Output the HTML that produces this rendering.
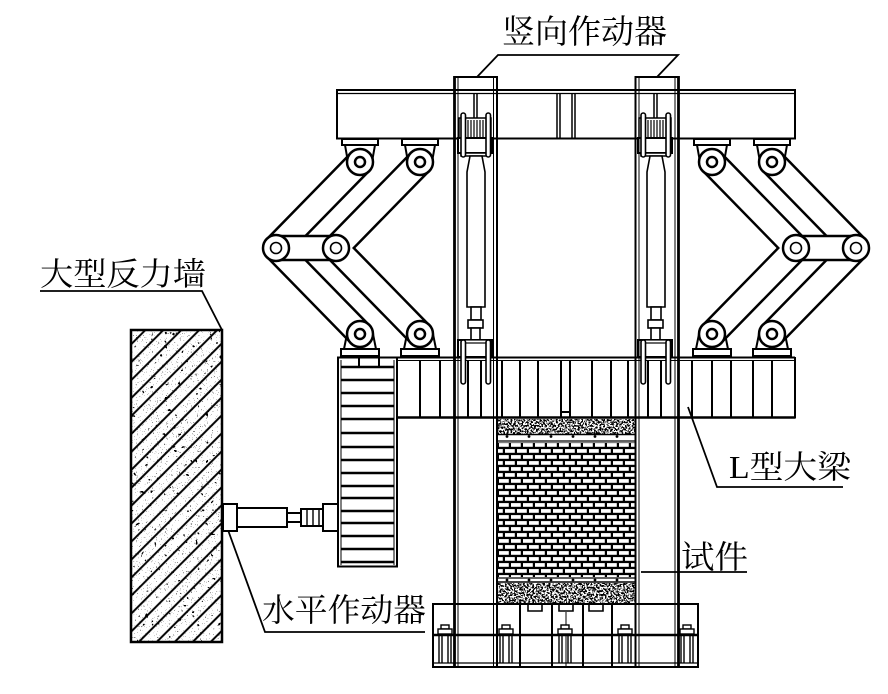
<!DOCTYPE html>
<html><head><meta charset="utf-8">
<style>
html,body{margin:0;padding:0;background:#fff;}
svg{display:block;}
text{font-family:"Liberation Serif","Noto Serif CJK SC",serif;fill:#000;}
</style></head><body>
<svg width="888" height="694" viewBox="0 0 888 694" xmlns="http://www.w3.org/2000/svg">
<defs>
 <filter id="conc" x="0" y="0" width="1" height="1" color-interpolation-filters="sRGB">
  <feTurbulence type="fractalNoise" baseFrequency="0.55" numOctaves="2" seed="7"/>
  <feColorMatrix type="matrix" values="0 0 0 0 0  0 0 0 0 0  0 0 0 0 0  -12 0 0 0 6.5"/>
 </filter>
 <filter id="stip" x="0" y="0" width="1" height="1" color-interpolation-filters="sRGB">
  <feTurbulence type="fractalNoise" baseFrequency="0.8" numOctaves="2" seed="3"/>
  <feColorMatrix type="matrix" values="0 0 0 0 0  0 0 0 0 0  0 0 0 0 0  -14 0 0 0 4.1"/>
 </filter>
 <filter id="blob" x="0" y="0" width="1" height="1" color-interpolation-filters="sRGB">
  <feTurbulence type="fractalNoise" baseFrequency="0.22" numOctaves="2" seed="11"/>
  <feColorMatrix type="matrix" values="0 0 0 0 0  0 0 0 0 0  0 0 0 0 0  -22 0 0 0 6.0"/>
 </filter>
 <pattern id="brick" width="12" height="12" patternUnits="userSpaceOnUse" x="498" y="442.5">
  <rect width="12" height="12" fill="#000"/>
  <rect x="1" y="0.6" width="9.8" height="3.7" fill="#fff"/>
  <rect x="-5" y="6.6" width="9.8" height="3.7" fill="#fff"/>
  <rect x="7" y="6.6" width="9.8" height="3.7" fill="#fff"/>
 </pattern>
 <pattern id="hatch" width="30" height="12.7" patternUnits="userSpaceOnUse" patternTransform="rotate(-45)">
  <line x1="0" y1="6" x2="30" y2="6" stroke="#000" stroke-width="2"/>
 </pattern>
 <clipPath id="wallclip"><rect x="131" y="330" width="91" height="312"/></clipPath>
 <g id="bars">
  <polygon points="351.8,154 267.8,240 284.2,256 368.2,170"/>
  <polygon points="411.8,154 327.8,240 344.2,256 428.2,170"/>
  <polygon points="267.8,256 351.8,342 368.2,326 284.2,240"/>
  <polygon points="327.8,256 411.8,342 428.2,326 344.2,240"/>
 </g>
 <g id="sc">
  <g stroke="#000" stroke-width="2" fill="#fff">
   <rect x="342" y="139" width="36" height="6"/>
   <polygon points="345,145 375,145 372,162 348,162"/>
   <rect x="402" y="139" width="36" height="6"/>
   <polygon points="405,145 435,145 432,162 408,162"/>
   <polygon points="347,334 373,334 376,349 344,349"/>
   <rect x="341" y="349" width="38" height="7"/>
   <polygon points="407,334 433,334 436,349 404,349"/>
   <rect x="401" y="349" width="38" height="7"/>
  </g>
  <use href="#bars" fill="#000" stroke="#000" stroke-width="5" stroke-linejoin="miter"/>
  <use href="#bars" fill="#fff"/>
  <rect x="276" y="236" width="60" height="24" fill="#fff" stroke="#000" stroke-width="2.5"/>
  <g fill="#fff" stroke="#000" stroke-width="2.5">
   <circle cx="360" cy="162" r="13"/><circle cx="360" cy="162" r="5"/>
   <circle cx="420" cy="162" r="13"/><circle cx="420" cy="162" r="5"/>
   <circle cx="360" cy="334" r="13"/><circle cx="360" cy="334" r="5"/>
   <circle cx="420" cy="334" r="13"/><circle cx="420" cy="334" r="5"/>
   <circle cx="276" cy="248" r="13"/>
   <circle cx="336" cy="248" r="13"/>
  </g>
  <g fill="#fff" stroke="#000" stroke-width="1.6">
   <circle cx="276" cy="248" r="5.5"/>
   <circle cx="336" cy="248" r="5.5"/>
  </g>
 </g>
 <g id="va" stroke="#000" fill="#fff">
  <line x1="474" y1="93" x2="474" y2="118" stroke-width="1.5"/>
  <line x1="477" y1="93" x2="477" y2="118" stroke-width="1.5"/>
  <rect x="459" y="118" width="32" height="20" stroke-width="1.5"/>
  <g stroke-width="1.2">
   <line x1="468" y1="120" x2="468" y2="137"/><line x1="471" y1="120" x2="471" y2="137"/>
   <line x1="474" y1="120" x2="474" y2="137"/><line x1="477" y1="120" x2="477" y2="137"/>
   <line x1="480" y1="120" x2="480" y2="137"/><line x1="483" y1="120" x2="483" y2="137"/>
  </g>
  <rect x="458" y="138" width="34" height="15" stroke-width="2"/>
  <rect x="461" y="153" width="28" height="3" stroke-width="1.5"/>
  <path d="M470,156 L482,156 L485,172 L485,307 L467,307 L467,172 Z" stroke-width="1.6"/>
  <rect x="471" y="307" width="10" height="13" stroke-width="1.6"/>
  <rect x="468" y="320" width="15" height="8" stroke-width="1.6"/>
  <rect x="471" y="328" width="9" height="12" stroke-width="1.6"/>
  <rect x="458" y="340" width="34" height="17" stroke-width="2"/>
  <rect x="461" y="340" width="28" height="3" stroke-width="1.2"/>
  <rect x="461" y="113" width="4.5" height="44" rx="2.2" stroke-width="1.6"/>
  <rect x="486" y="113" width="4.5" height="44" rx="2.2" stroke-width="1.6"/>
  <rect x="461" y="340" width="4.5" height="44" rx="2.2" stroke-width="1.6"/>
  <rect x="486" y="340" width="4.5" height="44" rx="2.2" stroke-width="1.6"/>
 </g>
 <g id="bolt" stroke="#000" fill="#fff" stroke-width="1.4">
  <line x1="-3" y1="635" x2="-3" y2="663"/><line x1="3" y1="635" x2="3" y2="663"/>
  <line x1="-6" y1="635" x2="-6" y2="663"/><line x1="6" y1="635" x2="6" y2="663"/>
  <rect x="-4" y="625" width="8" height="4"/>
  <rect x="-7" y="629" width="14" height="5"/>
 </g>
</defs>

<!-- Labels -->
<text x="502" y="43" font-size="33" textLength="165" lengthAdjust="spacingAndGlyphs">竖向作动器</text>
<text x="40" y="285" font-size="32" textLength="166" lengthAdjust="spacingAndGlyphs">大型反力墙</text>
<text x="262" y="621" font-size="32" textLength="164" lengthAdjust="spacingAndGlyphs">水平作动器</text>
<text x="729" y="478" font-size="32" textLength="122" lengthAdjust="spacingAndGlyphs">L型大梁</text>
<text x="681" y="568" font-size="32" textLength="67" lengthAdjust="spacingAndGlyphs">试件</text>

<g stroke="#000" stroke-width="1.8" fill="none">
 <polyline points="477,77 498,55 678,55 657,77"/>
 <polyline points="40,291 202,291 222,330"/>
 <polyline points="228,530 265,632 425,632"/>
 <polyline points="688,407 717,487 843,487"/>
 <line x1="641" y1="572" x2="747" y2="572"/>
</g>

<!-- Top beam -->
<g stroke="#000" fill="none">
 <rect x="337" y="90" width="458" height="48.5" stroke-width="2"/>
 <line x1="337" y1="93.5" x2="795" y2="93.5" stroke-width="1.2"/>
 <line x1="557" y1="93" x2="557" y2="138" stroke-width="1.5"/>
 <line x1="560" y1="93" x2="560" y2="138" stroke-width="1.5"/>
 <line x1="572" y1="93" x2="572" y2="138" stroke-width="1.5"/>
 <line x1="575" y1="93" x2="575" y2="138" stroke-width="1.5"/>
</g>

<!-- L beam band -->
<g stroke="#000" fill="none">
 <line x1="337" y1="357.5" x2="795" y2="357.5" stroke-width="2"/>
 <line x1="397" y1="360.5" x2="795" y2="360.5" stroke-width="1"/>
 <line x1="397" y1="417.5" x2="795" y2="417.5" stroke-width="2.5"/>
 <line x1="795" y1="357" x2="795" y2="418.5" stroke-width="2"/>
 <g stroke-width="2">
  <line x1="420" y1="360" x2="420" y2="417"/><line x1="440" y1="360" x2="440" y2="417"/>
  <line x1="468" y1="360" x2="468" y2="417"/><line x1="481" y1="360" x2="481" y2="417"/>
  <line x1="502" y1="360" x2="502" y2="417"/><line x1="520" y1="360" x2="520" y2="417"/>
  <line x1="538" y1="360" x2="538" y2="417"/><line x1="561" y1="360" x2="561" y2="417"/>
  <line x1="570" y1="360" x2="570" y2="417"/><line x1="592" y1="360" x2="592" y2="417"/>
  <line x1="611" y1="360" x2="611" y2="417"/><line x1="628" y1="360" x2="628" y2="417"/>
  <line x1="648" y1="360" x2="648" y2="417"/><line x1="661" y1="360" x2="661" y2="417"/>
  <line x1="692" y1="360" x2="692" y2="417"/><line x1="712" y1="360" x2="712" y2="417"/>
  <line x1="731" y1="360" x2="731" y2="417"/><line x1="753" y1="360" x2="753" y2="417"/>
  <line x1="772" y1="360" x2="772" y2="417"/>
  <line x1="560" y1="412" x2="571" y2="412"/>
 </g>
 <!-- leg -->
 <line x1="338" y1="357" x2="338" y2="567" stroke-width="2"/>
 <line x1="341" y1="360" x2="341" y2="565" stroke-width="1"/>
 <line x1="394" y1="360" x2="394" y2="565" stroke-width="1"/>
 <line x1="397" y1="357" x2="397" y2="567" stroke-width="2"/>
 <line x1="337" y1="566.5" x2="398" y2="566.5" stroke-width="2"/>
 <line x1="359" y1="358" x2="359" y2="367" stroke-width="2"/>
 <line x1="379" y1="358" x2="379" y2="367" stroke-width="2"/>
 <g stroke-width="2.5">
  <line x1="341" y1="367" x2="394" y2="367"/><line x1="341" y1="380" x2="394" y2="380"/>
  <line x1="341" y1="393" x2="394" y2="393"/><line x1="341" y1="406" x2="394" y2="406"/>
  <line x1="341" y1="419" x2="394" y2="419"/><line x1="341" y1="433" x2="394" y2="433"/>
  <line x1="341" y1="447" x2="394" y2="447"/><line x1="341" y1="460" x2="394" y2="460"/>
  <line x1="341" y1="473" x2="394" y2="473"/><line x1="341" y1="486" x2="394" y2="486"/>
  <line x1="341" y1="498" x2="394" y2="498"/><line x1="341" y1="511" x2="394" y2="511"/>
  <line x1="341" y1="523" x2="394" y2="523"/><line x1="341" y1="536" x2="394" y2="536"/>
  <line x1="341" y1="549" x2="394" y2="549"/><line x1="341" y1="562" x2="394" y2="562"/>
 </g>
</g>

<!-- Scissor linkages -->
<use href="#sc"/>
<use href="#sc" transform="translate(1132,0) scale(-1,1)"/>

<!-- Specimen -->
<rect x="498" y="419" width="137" height="15" fill="#fff"/>
<rect x="498" y="419" width="137" height="15" filter="url(#conc)"/>
<rect x="498" y="583" width="137" height="21" fill="#fff"/>
<rect x="498" y="583" width="137" height="21" filter="url(#conc)"/>
<rect x="498" y="442.5" width="137" height="134.5" fill="url(#brick)"/>
<g stroke="#000" fill="none">
 <line x1="498" y1="434.5" x2="635" y2="434.5" stroke-width="1.6"/>
 <line x1="498" y1="441" x2="635" y2="441" stroke-width="1.2"/>
 <line x1="498" y1="578" x2="635" y2="578" stroke-width="1.2"/>
 <line x1="498" y1="582" x2="635" y2="582" stroke-width="1.6"/>
</g>
<g fill="#000">
 <circle cx="507" cy="436.5" r="1.4"/><circle cx="529" cy="436.5" r="1.4"/><circle cx="551" cy="436.5" r="1.4"/>
 <circle cx="573" cy="436.5" r="1.4"/><circle cx="595" cy="436.5" r="1.4"/><circle cx="617" cy="436.5" r="1.4"/>
 <circle cx="507" cy="580" r="1.4"/><circle cx="529" cy="580" r="1.4"/><circle cx="551" cy="580" r="1.4"/>
 <circle cx="573" cy="580" r="1.4"/><circle cx="595" cy="580" r="1.4"/><circle cx="617" cy="580" r="1.4"/>
</g>

<!-- Foundation -->
<g stroke="#000" fill="none">
 <rect x="433" y="604" width="265" height="63" stroke-width="2"/>
 <line x1="433" y1="635" x2="698" y2="635" stroke-width="2.5"/>
 <line x1="433" y1="663" x2="698" y2="663" stroke-width="1.2"/>
 <g stroke-width="2">
  <line x1="520" y1="604" x2="520" y2="667"/><line x1="552" y1="604" x2="552" y2="667"/>
  <line x1="583" y1="604" x2="583" y2="667"/><line x1="612" y1="604" x2="612" y2="667"/>
 </g>
 <line x1="566" y1="612" x2="566" y2="667" stroke-width="1"/>
 <g stroke-width="1.6" fill="#fff">
  <path d="M528,605 V611 H542 V605"/>
  <path d="M559,605 V611 H573 V605"/>
  <path d="M589,605 V611 H603 V605"/>
 </g>
</g>
<use href="#bolt" transform="translate(445,0)"/>
<use href="#bolt" transform="translate(506,0)"/>
<use href="#bolt" transform="translate(565,0)"/>
<use href="#bolt" transform="translate(625,0)"/>
<use href="#bolt" transform="translate(687,0)"/>

<!-- Vertical actuators -->
<use href="#va"/>
<use href="#va" transform="translate(180,0)"/>

<!-- Columns -->
<g stroke="#000" fill="none">
 <line x1="454.5" y1="76" x2="454.5" y2="667" stroke-width="2.8"/>
 <line x1="458" y1="77" x2="458" y2="667" stroke-width="1"/>
 <line x1="493.5" y1="77" x2="493.5" y2="667" stroke-width="1"/>
 <line x1="497" y1="76" x2="497" y2="667" stroke-width="2"/>
 <line x1="454" y1="77" x2="498" y2="77" stroke-width="2"/>
 <line x1="635.5" y1="76" x2="635.5" y2="667" stroke-width="2"/>
 <line x1="639" y1="77" x2="639" y2="667" stroke-width="1"/>
 <line x1="675" y1="77" x2="675" y2="667" stroke-width="1"/>
 <line x1="678.5" y1="76" x2="678.5" y2="667" stroke-width="2.8"/>
 <line x1="635" y1="77" x2="679" y2="77" stroke-width="2"/>
</g>

<!-- Reaction wall -->
<g clip-path="url(#wallclip)">
 <rect x="131" y="330" width="91" height="312" fill="#fff"/>
 <rect x="131" y="330" width="91" height="312" filter="url(#stip)"/>
 <rect x="131" y="330" width="91" height="312" filter="url(#blob)"/>
 <rect x="131" y="330" width="91" height="312" fill="url(#hatch)"/>
</g>
<rect x="131" y="330" width="91" height="312" fill="none" stroke="#000" stroke-width="2.5"/>

<!-- Horizontal actuator -->
<g stroke="#000" fill="#fff" stroke-width="2">
 <rect x="223" y="504" width="14" height="27"/>
 <rect x="237" y="508" width="50" height="19"/>
 <rect x="287" y="513" width="14" height="9"/>
 <rect x="301" y="509" width="22" height="17"/>
 <line x1="307" y1="509" x2="307" y2="526" stroke-width="1.4"/>
 <line x1="313" y1="509" x2="313" y2="526" stroke-width="1.4"/>
 <line x1="319" y1="509" x2="319" y2="526" stroke-width="1.4"/>
 <rect x="323" y="504" width="15" height="27"/>
</g>
</svg>
</body></html>
